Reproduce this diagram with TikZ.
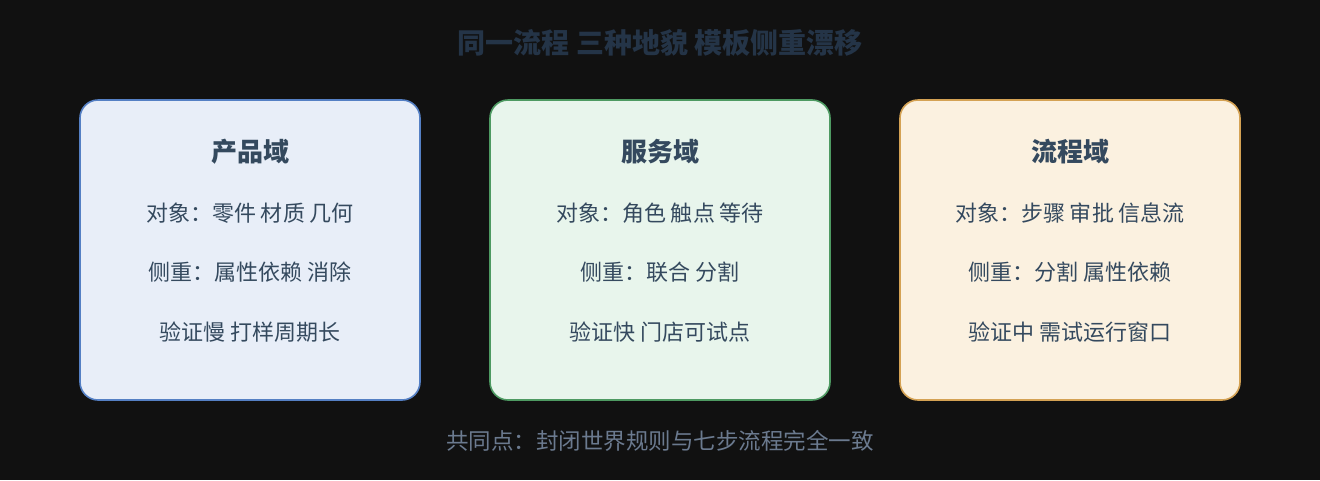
\documentclass[tikz,border=0pt]{standalone}
\usepackage{fontspec}
\setmainfont{Noto Sans CJK SC}
\definecolor{bg}{HTML}{111111}
\definecolor{titlec}{HTML}{243447}
\definecolor{textc}{HTML}{34495E}
\definecolor{footc}{HTML}{6B7A8F}
\definecolor{fillA}{HTML}{E8EEF8}
\definecolor{drawA}{HTML}{5580C4}
\definecolor{fillB}{HTML}{E8F5EC}
\definecolor{drawB}{HTML}{4E9A62}
\definecolor{fillC}{HTML}{FBF1E0}
\definecolor{drawC}{HTML}{D4A254}
\tikzset{
  panel/.style={rounded corners=18pt, line width=1.6pt, minimum width=340pt, minimum height=300pt, inner sep=0pt},
  headtext/.style={font=\fontsize{26}{30}\selectfont\bfseries, text=textc},
  bodytext/.style={font=\fontsize{22}{26}\selectfont, text=textc},
}
\begin{document}
\begin{tikzpicture}[x=1pt,y=-1pt]
\useasboundingbox[fill=bg] (0,0) rectangle (1320,480);
\node[font=\fontsize{28}{32}\selectfont\bfseries, text=titlec] (title) at (660,43) {同一流程 三种地貌 模板侧重漂移};

\node[panel, fill=fillA, draw=drawA] (p1) at (250,250) {};
\node[panel, fill=fillB, draw=drawB] (p2) at (660,250) {};
\node[panel, fill=fillC, draw=drawC] (p3) at (1070,250) {};

\node[headtext] (h1) at (250,152) {产品域};
\node[bodytext] (a1) at (250,213) {对象：零件 材质 几何};
\node[bodytext] (b1) at (250,272) {侧重：属性依赖 消除};
\node[bodytext] (c1) at (250,332) {验证慢 打样周期长};

\node[headtext] (h2) at (660,152) {服务域};
\node[bodytext] (a2) at (660,213) {对象：角色 触点 等待};
\node[bodytext] (b2) at (660,272) {侧重：联合 分割};
\node[bodytext] (c2) at (660,332) {验证快 门店可试点};

\node[headtext] (h3) at (1070,152) {流程域};
\node[bodytext] (a3) at (1070,213) {对象：步骤 审批 信息流};
\node[bodytext] (b3) at (1070,272) {侧重：分割 属性依赖};
\node[bodytext] (c3) at (1070,332) {验证中 需试运行窗口};

\node[font=\fontsize{22.5}{26}\selectfont, text=footc] (foot) at (660,441) {共同点：封闭世界规则与七步流程完全一致};
\end{tikzpicture}
\end{document}
